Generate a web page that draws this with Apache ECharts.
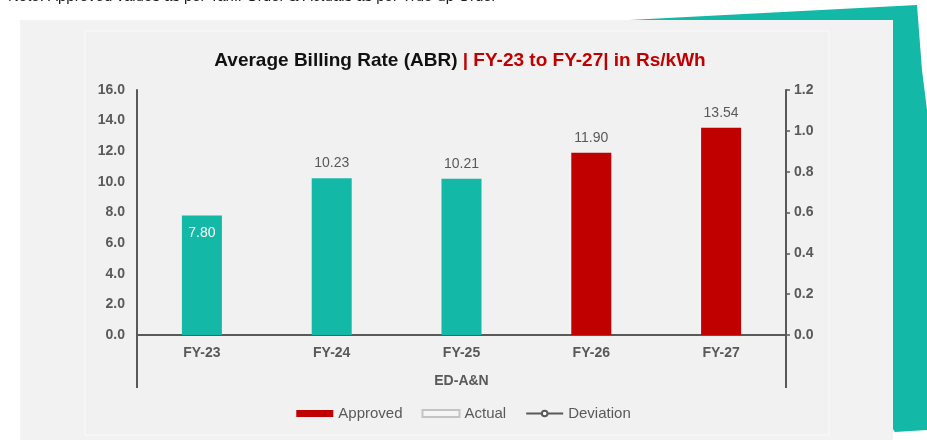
<!DOCTYPE html>
<html>
<head>
<meta charset="utf-8">
<script src="https://cdn.jsdelivr.net/npm/echarts@6/dist/echarts.min.js"></script>
<style>
  html, body { margin: 0; padding: 0; background: #ffffff; }
  #chart { width: 927px; height: 440px; }
</style>
</head>
<body>
<div id="chart"></div>
<script>
// data
const categories = ['FY-23', 'FY-24', 'FY-25', 'FY-26', 'FY-27'];
const trueUpValues = [7.80, 10.23, 10.21, null, null];
const approvedValues = [null, null, null, 11.90, 13.54];
const actualValues = [];
const deviationValues = [];
const leftTicks = { min: 0, max: 16, interval: 2 };
const rightTicks = { min: 0, max: 1.2, interval: 0.2 };

const teal = '#14B8A6';
const red = '#C00000';
const grey = '#595959';

const gridBox = { left: 137, right: 141, top: 90, bottom: 105 };
const W = 927, H = 440;
const axisBottomY = H - gridBox.bottom;
const axisLeftX = gridBox.left;
const axisRightX = W - gridBox.right;

const chart = echarts.init(document.getElementById('chart'));

const option = {
  animation: false,
  textStyle: { fontFamily: 'Liberation Sans, Arial, sans-serif' },
  graphic: [
    { type: 'polygon', z: -3, silent: true,
      shape: { points: [[610, 21], [917, 5], [922, 70], [927, 110], [927, 430], [895, 432]] },
      style: { fill: teal } },
    { type: 'rect', z: -2, silent: true,
      shape: { x: 20, y: 20, width: 873, height: 420 },
      style: { fill: '#f2f2f2' } },
    { type: 'rect', z: -1, silent: true,
      shape: { x: 85, y: 31, width: 744, height: 404 },
      style: { fill: '#f1f1f1', stroke: '#f9f9f9', lineWidth: 1 } },
    { type: 'text', z: 5, silent: true, left: 8, top: -11,
      style: { text: 'Note: Approved values as per Tariff Order & Actuals as per True-up Order',
               fill: '#1a1a1a', font: '15px Liberation Sans, Arial, sans-serif' } },
    { type: 'line', z: 10, silent: true,
      shape: { x1: axisLeftX, y1: axisBottomY, x2: axisLeftX, y2: axisBottomY + 53 },
      style: { stroke: grey, lineWidth: 2 } },
    { type: 'line', z: 10, silent: true,
      shape: { x1: axisRightX, y1: axisBottomY, x2: axisRightX, y2: axisBottomY + 53 },
      style: { stroke: grey, lineWidth: 2 } }
  ],
  title: {
    text: '{a|Average Billing Rate (ABR) }{b|| FY-23 to FY-27| in Rs/kWh}',
    left: 455,
    top: 46,
    textAlign: 'center',
    textStyle: {
      rich: {
        a: { fontSize: 19, fontWeight: 'bold', color: '#111111', fontFamily: 'Liberation Sans, Arial, sans-serif' },
        b: { fontSize: 19, fontWeight: 'bold', color: red, fontFamily: 'Liberation Sans, Arial, sans-serif' }
      }
    }
  },
  legend: {
    data: [
      { name: 'Approved', icon: 'rect' },
      { name: 'Actual', icon: 'rect' },
      { name: 'Deviation' }
    ],
    left: 'center',
    top: 401,
    itemWidth: 37,
    itemHeight: 7,
    itemGap: 19,
    textStyle: { color: grey, fontSize: 15 }
  },
  grid: gridBox,
  xAxis: {
    type: 'category',
    data: categories,
    axisLine: { lineStyle: { color: grey, width: 2 } },
    axisTick: { show: false },
    axisLabel: { color: grey, fontSize: 14, fontWeight: 'bold', margin: 11 },
    name: 'ED-A&N',
    nameLocation: 'middle',
    nameGap: 39,
    nameTextStyle: { color: grey, fontSize: 14, fontWeight: 'bold' }
  },
  yAxis: [
    {
      type: 'value',
      min: leftTicks.min, max: leftTicks.max, interval: leftTicks.interval,
      axisLine: { show: true, lineStyle: { color: grey, width: 2 } },
      axisTick: { show: false },
      splitLine: { show: false },
      axisLabel: { color: grey, fontSize: 14, fontWeight: 'bold', margin: 12,
                   formatter: v => v.toFixed(1) }
    },
    {
      type: 'value',
      min: rightTicks.min, max: rightTicks.max, interval: rightTicks.interval,
      axisLine: { show: true, lineStyle: { color: grey, width: 2 } },
      axisTick: { show: true, length: 4, lineStyle: { color: grey, width: 1.5 } },
      splitLine: { show: false },
      axisLabel: { color: grey, fontSize: 14, fontWeight: 'bold', margin: 8,
                   formatter: v => v.toFixed(1) }
    }
  ],
  series: [
    {
      name: 'Actuals (True-up)',
      type: 'bar',
      stack: 'abr',
      barWidth: 40,
      itemStyle: { color: teal },
      label: { show: true, position: 'top', distance: 8, color: grey, fontSize: 14,
               formatter: p => p.value.toFixed(2) },
      data: trueUpValues.map((v, i) => i === 0
        ? { value: v, label: { position: 'insideTop', color: '#ffffff', distance: 11 } }
        : v)
    },
    {
      name: 'Approved',
      type: 'bar',
      stack: 'abr',
      barWidth: 40,
      itemStyle: { color: red },
      label: { show: true, position: 'top', distance: 8, color: grey, fontSize: 14,
               formatter: p => p.value.toFixed(2) },
      data: approvedValues
    },
    {
      name: 'Actual',
      type: 'bar',
      stack: 'abr',
      barWidth: 40,
      itemStyle: { color: '#f4f4f4', borderColor: '#c4c4c4', borderWidth: 1.5 },
      data: actualValues
    },
    {
      name: 'Deviation',
      type: 'line',
      yAxisIndex: 1,
      symbol: 'emptyCircle',
      symbolSize: 6,
      lineStyle: { color: grey, width: 3 },
      itemStyle: { color: grey },
      data: deviationValues
    }
  ]
};

chart.setOption(option);
</script>
</body>
</html>
